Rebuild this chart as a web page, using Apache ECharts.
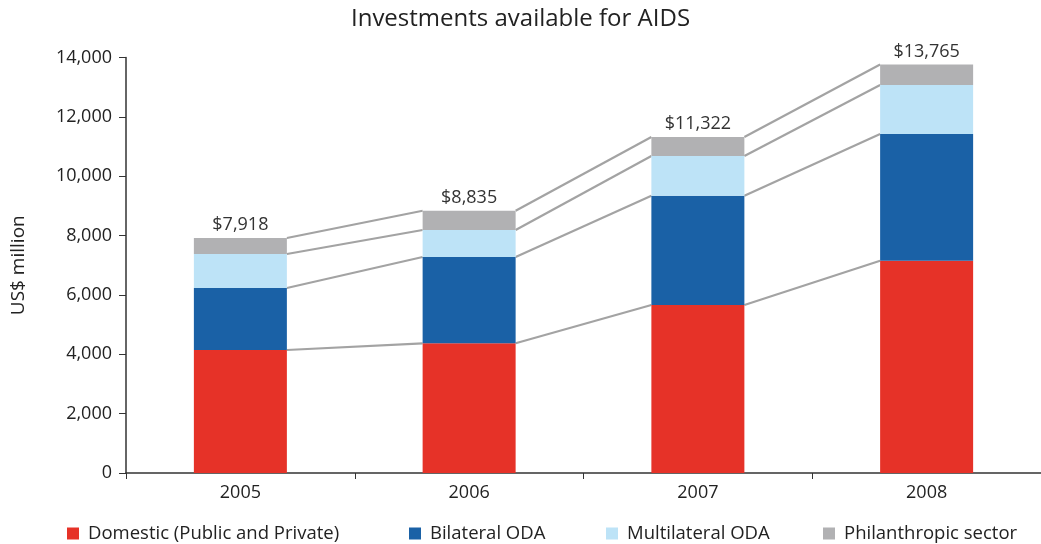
<!DOCTYPE html>
<html>
<head>
<meta charset="utf-8">
<script src="https://cdn.jsdelivr.net/npm/echarts@6/dist/echarts.min.js"></script>
<style>html,body{margin:0;padding:0;background:#fff}#c{width:1041px;height:544px}</style>
</head>
<body>
<div id="c"></div>
<script>
const categories = ['2005', '2006', '2007', '2008'];
const domestic = [4144, 4370, 5661, 7153];
const bilateral = [2089, 2908, 3682, 4269];
const multilateral = [1146, 910, 1338, 1651];
const philanthropic = [539, 647, 641, 692];
const totals = [7918, 8835, 11322, 13765];
const yTicks = [0, 2000, 4000, 6000, 8000, 10000, 12000, 14000];
const seriesNames = ['Domestic (Public and Private)', 'Bilateral ODA', 'Multilateral ODA', 'Philanthropic sector'];
const colors = ['#E63228', '#1A61A6', '#BDE3F7', '#B1B1B3'];

const stacks = [domestic, bilateral, multilateral, philanthropic];
const cum = categories.map((c, i) => {
  let s = 0; return stacks.map(a => (s += a[i]));
});

const FONT = '"Open Sans", "Noto Sans", sans-serif';
const BAR_W = 93;
const legendLeft = [62, 404, 601, 818];

const chart = echarts.init(document.getElementById('c'));
const barSeries = stacks.map((arr, k) => ({
  name: seriesNames[k],
  type: 'bar',
  stack: 'total',
  barWidth: BAR_W,
  data: arr,
  itemStyle: { color: colors[k] },
  z: 3,
  label: k === 3 ? {
    show: true, position: 'top', distance: 4,
    fontFamily: FONT, fontSize: 18, color: '#333',
    formatter: p => '$' + totals[p.dataIndex].toLocaleString('en-US')
  } : { show: false }
}));

const connector = {
  type: 'custom',
  name: 'connectors',
  silent: true,
  z: 2,
  data: categories.slice(0, -1).map((c, i) => [i, 0]),
  encode: { x: 0, y: 1 },
  renderItem: function (params, api) {
    const i = params.dataIndex;
    const children = cum[i].map((v, k) => {
      const p1 = api.coord([i, v]);
      const p2 = api.coord([i + 1, cum[i + 1][k]]);
      return {
        type: 'line',
        shape: { x1: p1[0] + BAR_W / 2, y1: p1[1], x2: p2[0] - BAR_W / 2, y2: p2[1] },
        style: { stroke: '#A3A3A3', lineWidth: 2.2 }
      };
    });
    return { type: 'group', children: children };
  }
};

chart.setOption({
  animation: false,
  backgroundColor: '#fff',
  title: {
    text: 'Investments available for AIDS',
    left: 'center', top: 2,
    textStyle: { fontFamily: FONT, fontSize: 24, fontWeight: 'normal', color: '#222' }
  },
  legend: seriesNames.map((n, k) => ({
    top: 519, left: legendLeft[k],
    itemWidth: 12, itemHeight: 12,
    icon: 'rect',
    data: [n],
    textStyle: { fontFamily: FONT, fontSize: 18.5, color: '#222', padding: [0, 0, 0, 4] }
  })),
  grid: { left: 126, right: -7, top: 57.5, bottom: 71 },
  xAxis: {
    type: 'category',
    data: categories,
    axisLine: { lineStyle: { color: '#333', width: 1.5 } },
    axisTick: { show: true, length: 6, lineStyle: { color: '#333' } },
    axisLabel: { fontFamily: FONT, fontSize: 18, color: '#222', margin: 11 }
  },
  yAxis: {
    type: 'value',
    min: yTicks[0], max: yTicks[yTicks.length - 1], interval: yTicks[1] - yTicks[0],
    name: 'US$ million', nameLocation: 'middle', nameGap: 98,
    nameTextStyle: { fontFamily: FONT, fontSize: 19, color: '#222' },
    axisLine: { show: true, lineStyle: { color: '#333', width: 1.5 } },
    axisTick: { show: true, length: 7, lineStyle: { color: '#333' } },
    splitLine: { show: false },
    axisLabel: { fontFamily: FONT, fontSize: 18, color: '#222', margin: 14,
      formatter: v => v.toLocaleString('en-US') }
  },
  series: [...barSeries, connector]
});
</script>
</body>
</html>
